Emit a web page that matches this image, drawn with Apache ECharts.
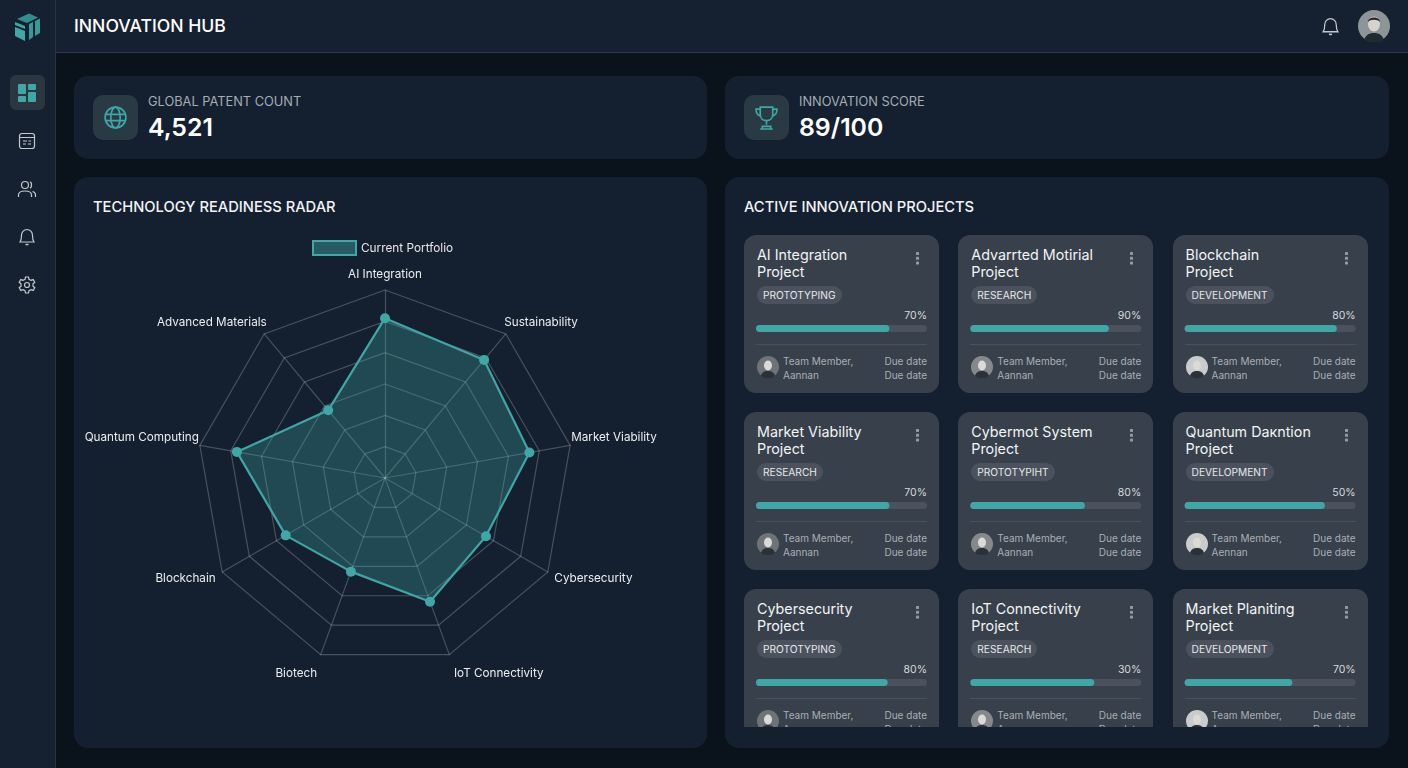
<!DOCTYPE html>
<html>
<head>
<meta charset="utf-8">
<title>Innovation Hub</title>
<script src="https://cdn.jsdelivr.net/npm/echarts@6/dist/echarts.min.js"></script>
<style>
  html,body{margin:0;padding:0;width:1408px;height:768px;overflow:hidden;background:#0a121b;font-family:Inter,Roboto,sans-serif;color:#fff}
  div,svg{box-sizing:border-box}
  .abs{position:absolute}
  #side{left:0;top:0;width:56px;height:768px;background:#152130;border-right:1px solid #2a3440}
  #top{left:56px;top:0;width:1352px;height:53px;background:#152130;border-bottom:1px solid #2f3945}
  #title{left:74px;top:15px;font-size:17.6px;line-height:22px;font-weight:500;white-space:nowrap}
  #active{left:10px;top:75px;width:35px;height:35px;border-radius:6px;background:#2b3641}
  .panel{background:#142030;border-radius:14px}
  .tile{width:45px;height:45px;border-radius:10px;background:#2a3a44;top:95px}
  .kpiLabel{top:94px;font-size:12.8px;line-height:16px;color:#a5adb5;white-space:nowrap}
  .kpiValue{top:111px;font-size:24.800px;line-height:32px;font-weight:600;white-space:nowrap}
  .head{top:198px;font-size:14.700px;line-height:18px;font-weight:500;white-space:nowrap;color:#f2f4f6}
  #scroll{left:744px;top:235px;width:624px;height:492px;overflow:hidden}
  .card{width:195px;height:158px;border-radius:12px;background:#38404b}
  .name{left:13px;top:11px;font-size:14.300px;line-height:17px;font-weight:400;color:#f2f4f6;white-space:pre}
  .dots{left:172px;top:17px;width:3px;height:13px;background:radial-gradient(circle at 1.5px 1.5px,#969ca3 1.4px,transparent 1.6px) 0 0/3px 4.8px}
  .pill{left:13px;top:51px;height:18px;border-radius:9px;background:#4b525d;padding:0 6px;font-size:10.200px;line-height:19px;color:#e6e8ea;white-space:nowrap}
  .pct{right:12px;top:74px;font-size:10.500px;line-height:14px;color:#d6d9dc}
  .rule{left:12px;width:171px;top:109px;height:1px;background:#4a515c}
  .ava{left:13px;top:121px;width:22px;height:22px}
  .who{left:39px;top:119px;font-size:10px;line-height:14px;color:#a9afb6;white-space:nowrap}
  .due{right:12px;top:119px;font-size:10px;line-height:14px;color:#a9afb6;text-align:right;white-space:nowrap}
  #main{left:0;top:0;width:1408px;height:768px;pointer-events:none}
</style>
</head>
<body>
<div id="side" class="abs"></div>
<div id="top" class="abs"></div>
<div id="title" class="abs">INNOVATION HUB</div>

<!-- logo -->
<svg class="abs" style="left:14px;top:12px" width="27" height="30" viewBox="0 0 27 30">
  <path d="M3 7 15 1.500 24 5.500 13 11Z" fill="#2f8f90"/>
  <path d="M1 10 11 14V17L1 13Z M1 15 11 19V29L1 24Z" fill="#3fa7a6"/>
  <path d="M15 12 19 10V25L15 28Z M21 9 26 6.500V21L21 24Z" fill="#37999a"/>
</svg>

<div id="active" class="abs"></div>
<svg class="abs" style="left:18px;top:84px" width="18" height="18" viewBox="0 0 18 18" fill="#3fa7a6">
  <rect x="0" y="0" width="8" height="10" rx="1"/><rect x="10" y="0" width="8" height="6" rx="1"/>
  <rect x="0" y="12" width="8" height="6" rx="1"/><rect x="10" y="8" width="8" height="10" rx="1"/>
</svg>
<svg class="abs" style="left:18px;top:132px" width="18" height="18" viewBox="0 0 18 18" fill="none" stroke="#c3c8cd" stroke-width="1.2">
  <rect x="1.5" y="1.5" width="15" height="15" rx="2.5"/><path d="M1.5 5.5H16.5M5 9H9M10.5 9H13M5 12H8M10 12H13"/>
</svg>
<svg class="abs" style="left:17px;top:179px" width="20" height="20" viewBox="0 0 20 20" fill="none" stroke="#c3c8cd" stroke-width="1.2">
  <circle cx="8" cy="6" r="3.5"/><path d="M1.5 18V16C1.5 13.5 4 12 8 12S14.500 13.500 14.500 16V18M13 2.800C15 3.300 15 8.700 13 9.200M15.500 12.500C17.500 13 18.500 14.500 18.500 16V18"/>
</svg>
<svg class="abs" style="left:18px;top:227px" width="18" height="20" viewBox="0 0 18 20" fill="none" stroke="#c3c8cd" stroke-width="1.2">
  <path d="M2 15C3.500 13 3.500 11.500 3.500 8.500 3.500 5 6 2.500 9 2.500S14.500 5 14.500 8.500C14.500 11.500 14.500 13 16 15Z"/><path d="M7.500 17.500H10.500" stroke-width="1.500"/>
</svg>
<svg class="abs" style="left:18px;top:276px" width="18" height="18" viewBox="0 0 18 18" fill="none" stroke="#c3c8cd" stroke-width="1.2">
  <circle cx="9" cy="9" r="2.500"/><path d="M7.500 1H10.500L11 3.300 13 4.400 15.200 3.600 16.800 6.300 15 7.800V10.200L16.800 11.700 15.200 14.400 13 13.600 11 14.700 10.500 17H7.500L7 14.700 5 13.600 2.800 14.400 1.200 11.700 3 10.200V7.800L1.200 6.300 2.800 3.600 5 4.400 7 3.300Z"/>
</svg>

<!-- top right -->
<svg class="abs" style="left:1321px;top:16px" width="19" height="21" viewBox="0 0 18 20" fill="none" stroke="#c3c8cd" stroke-width="1.2">
  <path d="M2 15C3.500 13 3.500 11.500 3.500 8.500 3.500 5 6 2.500 9 2.500S14.500 5 14.500 8.500C14.500 11.500 14.500 13 16 15Z"/><path d="M7.500 17.500H10.500" stroke-width="1.500"/>
</svg>
<svg class="abs" style="left:1358px;top:10px" width="32" height="32" viewBox="0 0 32 32">
  <circle cx="16" cy="16" r="16" fill="#8f9499"/>
  <path d="M6 30C8 24 12 23 16 23S24 24 26 30A16 16 0 0 1 6 30Z" fill="#1f2a33"/>
  <ellipse cx="16" cy="14" rx="6" ry="7.500" fill="#d5d3d0"/>
  <path d="M10 12C10 6 22 6 22 12 20 9 12 9 10 12Z" fill="#22272c"/>
</svg>

<!-- KPI row -->
<div class="abs panel" style="left:74px;top:76px;width:633px;height:83px"></div>
<div class="abs panel" style="left:725px;top:76px;width:664px;height:83px"></div>
<div class="abs tile" style="left:93px"></div>
<div class="abs tile" style="left:744px"></div>
<svg class="abs" style="left:103px;top:105px" width="25" height="25" viewBox="0 0 24 24" fill="none" stroke="#3fa7a6" stroke-width="1.600">
  <circle cx="12" cy="12" r="10"/><ellipse cx="12" cy="12" rx="4.500" ry="10"/><path d="M2.500 9H21.500M2.500 15H21.500"/>
</svg>
<svg class="abs" style="left:754px;top:105px" width="25" height="25" viewBox="0 0 24 24" fill="none" stroke="#3fa7a6" stroke-width="1.600">
  <path d="M6 2H18V9C18 13 15 15 12 15S6 13 6 9Z"/><path d="M6 4H2C2 8 3.500 10 6.500 10.500M18 4H22C22 8 20.500 10 17.500 10.500M12 15V19M8 23V20.500H16V23ZM6 23H18"/>
</svg>
<div class="abs kpiLabel" style="left:148px">GLOBAL PATENT COUNT</div>
<div class="abs kpiValue" style="left:148px">4,521</div>
<div class="abs kpiLabel" style="left:799px">INNOVATION SCORE</div>
<div class="abs kpiValue" style="left:799px">89/100</div>

<!-- panels -->
<div class="abs panel" style="left:74px;top:177px;width:633px;height:571px"></div>
<div class="abs panel" style="left:725px;top:177px;width:664px;height:571px"></div>
<div class="abs head" style="left:93px">TECHNOLOGY READINESS RADAR</div>
<div class="abs head" style="left:744px">ACTIVE INNOVATION PROJECTS</div>
<div id="scroll" class="abs"></div>

<div id="main" class="abs"></div>

<script type="text/javascript">
	// radar, listed the way echarts walks the axes (counter clockwise from the top)
	var radarAxes = ['AI Integration','Advanced Materials','Quantum Computing','Blockchain','Biotech','IoT Connectivity','Cybersecurity','Market Viability','Sustainability'];
	var radarValues = [85, 47, 80, 61, 53, 70, 62, 78, 82];
	var radarSeriesName = 'Current Portfolio';

	// project cards, left to right then top to bottom
	var projectNames = ['AI Integration\nProject','Advarrted Motirial\nProject','Blockchain\nProject','Market Viability\nProject','Cybermot System\nProject','Quantum Daкntion\nProject','Cybersecurity\nProject','IoT Connectivity\nProject','Market Planiting\nProject'];
	var projectStages = ['PROTOTYPING','RESEARCH','DEVELOPMENT','RESEARCH','PROTOTYPIHT','DEVELOPMENT','PROTOTYPING','RESEARCH','DEVELOPMENT'];
	var projectLabels = ['70%','90%','80%','70%','80%','50%','80%','30%','70%'];
	// the drawn bars do not follow the printed percentages in the reference
	var projectBars = [78, 81, 89, 78, 67, 82, 77, 72.5, 63];
	var projectMembers = ['Aannan','Aannan','Aannan','Aannan','Aannan','Aennan','Aannan','Aannan','Aannan'];

	var teal = '#3fa7a6';
	var stepX = 214.3, stepY = 177;

	// nudges the radar names, same order as radarAxes: top,right,bottom,left padding
	var namePad = [[0,0,14,0],[0,0,29,0],[0,5,17,0],[16,10,0,0],[45,5,0,0],[45,0,0,6],[16,0,0,10],[0,0,17,5],[0,0,29,1]];
	var nameRich = {};
	namePad.forEach(function(p,i){ nameRich['n'+i] = {padding:p,color:'#eceef0',fontSize:11.7,fontFamily:'Inter'}; });

	function avatar(i){
		var tones = ['#6e7378','#85898d','#c9cbcc'];
		var t = tones[i % 3];
		return '<svg class="abs ava" viewBox="0 0 22 22"><circle cx="11" cy="11" r="11" fill="'+t+'"/>'
			+'<path d="M4 20C5 16 8 15 11 15S17 16 18 20A11 11 0 0 1 4 20Z" fill="#2a3138"/>'
			+'<ellipse cx="11" cy="9.500" rx="4" ry="5" fill="#dcdad6"/></svg>';
	}

	var html = '';
	for(var i=0;i<projectNames.length;i++){
		var x = (i%3)*stepX, y = Math.floor(i/3)*stepY;
		html += '<div class="abs card" style="left:'+x+'px;top:'+y+'px">'
			+'<div class="abs name">'+projectNames[i]+'</div>'
			+'<div class="abs dots"></div>'
			+'<div class="abs pill">'+projectStages[i]+'</div>'
			+'<div class="abs pct">'+projectLabels[i]+'</div>'
			+'<div class="abs rule"></div>'
			+avatar(i)
			+'<div class="abs who">Team Member,<br>'+projectMembers[i]+'</div>'
			+'<div class="abs due">Due date<br>Due date</div>'
			+'</div>';
	}
	document.getElementById('scroll').innerHTML = html;

	var myChart = echarts.init(document.getElementById('main'));

	var grids = [], xAxes = [], yAxes = [], series = [];
	series.push({
		type:'radar',
		name:radarSeriesName,
		symbol:'circle',
		symbolSize:10,
		data:[{value:radarValues}],
		itemStyle:{color:teal},
		lineStyle:{color:teal,width:2.2},
		areaStyle:{color:'rgba(60,165,165,0.45)'}
	});
	for(var k=0;k<projectBars.length;k++){
		grids.push({left:756+(k%3)*stepX,top:325+Math.floor(k/3)*stepY,width:171,height:7});
		xAxes.push({gridIndex:k,type:'value',min:0,max:100,show:false});
		yAxes.push({gridIndex:k,type:'category',data:[projectNames[k].split('\n')[0]],show:false});
		series.push({
			type:'bar',
			xAxisIndex:k,
			yAxisIndex:k,
			data:[projectBars[k]],
			barWidth:7,
			showBackground:true,
			backgroundStyle:{color:'#4b525d',borderRadius:3.5},
			itemStyle:{color:teal,borderRadius:3.5},
			silent:true
		});
	}

	myChart.setOption({
		animation:false,
		backgroundColor:'transparent',
		legend:{
			left:307,
			top:235,
			data:[radarSeriesName],
			icon:'rect',
			itemWidth:43,
			itemHeight:14,
			itemGap:4,
			itemStyle:{color:'rgba(60,165,165,0.45)',borderColor:teal,borderWidth:2},
			textStyle:{color:'#e4e7ea',fontSize:11.8,fontFamily:'Inter'}
		},
		radar:{
			center:[385,478],
			radius:188,
			startAngle:90,
			splitNumber:6,
			shape:'polygon',
			nameGap:-4,
			axisName:{
				color:'#eceef0',fontSize:11.7,fontFamily:'Inter',
				formatter:function(name){ return '{n'+radarAxes.indexOf(name)+'|'+name+'}'; },
				rich:nameRich
			},
			axisLine:{lineStyle:{color:'rgba(255,255,255,0.22)',width:1.2}},
			splitLine:{lineStyle:{color:'rgba(255,255,255,0.22)',width:1.2}},
			splitArea:{show:false},
			indicator:radarAxes.map(function(n){return {name:n,min:0,max:100};})
		},
		grid:grids,
		xAxis:xAxes,
		yAxis:yAxes,
		series:series
	});
</script>
</body>
</html>
